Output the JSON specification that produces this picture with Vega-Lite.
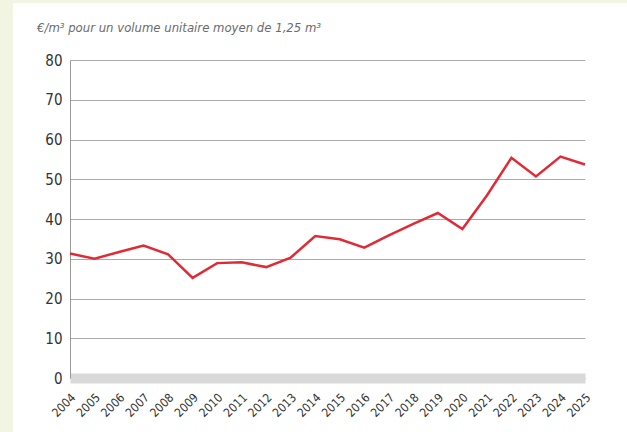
{
  "$schema": "https://vega.github.io/schema/vega-lite/v6.json",
  "width": 515,
  "height": 318,
  "autosize": {"type": "none"},
  "padding": {"left": 70, "top": 60, "right": 42, "bottom": 54},
  "background": "#f2f5e1",
  "title": {
    "text": "€/m³ pour un volume unitaire moyen de 1,25 m³",
    "anchor": "start",
    "frame": "group",
    "dx": -33,
    "offset": 18,
    "font": "DejaVu Sans Condensed, Roboto",
    "fontStyle": "italic",
    "fontWeight": "normal",
    "fontSize": 13,
    "color": "#6b6b6b"
  },
  "config": {
    "view": {"fill": "white", "stroke": "white", "strokeWidth": 114},
    "font": "DejaVu Sans Condensed, Roboto"
  },
  "data": {
    "values": [
      {"year": "2004", "price": 31.3},
      {"year": "2005", "price": 30.0},
      {"year": "2006", "price": 31.7},
      {"year": "2007", "price": 33.3},
      {"year": "2008", "price": 31.1},
      {"year": "2009", "price": 25.2},
      {"year": "2010", "price": 28.9},
      {"year": "2011", "price": 29.1},
      {"year": "2012", "price": 27.9},
      {"year": "2013", "price": 30.3},
      {"year": "2014", "price": 35.7},
      {"year": "2015", "price": 34.9},
      {"year": "2016", "price": 32.8},
      {"year": "2017", "price": 35.9},
      {"year": "2018", "price": 38.8},
      {"year": "2019", "price": 41.5},
      {"year": "2020", "price": 37.5},
      {"year": "2021", "price": 45.9},
      {"year": "2022", "price": 55.4},
      {"year": "2023", "price": 50.7},
      {"year": "2024", "price": 55.7},
      {"year": "2025", "price": 53.7}
    ]
  },
  "mark": {"type": "line", "color": "#e02b37", "strokeWidth": 2.5},
  "encoding": {
    "x": {
      "field": "year",
      "type": "ordinal",
      "scale": {"type": "point", "padding": 0},
      "axis": {
        "title": null,
        "ticks": false,
        "grid": false,
        "domainColor": "#d9d9d9",
        "domainWidth": 10,
        "labelAngle": -45,
        "labelAlign": "right",
        "labelBaseline": "middle",
        "labelFontSize": 12,
        "labelColor": "#333333",
        "labelPadding": 17,
        "labelOffset": 3
      }
    },
    "y": {
      "field": "price",
      "type": "quantitative",
      "scale": {"domain": [0, 80], "nice": false},
      "axis": {
        "title": null,
        "values": [0, 10, 20, 30, 40, 50, 60, 70, 80],
        "ticks": false,
        "grid": true,
        "gridColor": "#aaaaaa",
        "gridWidth": 1,
        "domainColor": "#999999",
        "labelFontSize": 15,
        "labelColor": "#333333",
        "labelPadding": 8
      }
    }
  }
}
